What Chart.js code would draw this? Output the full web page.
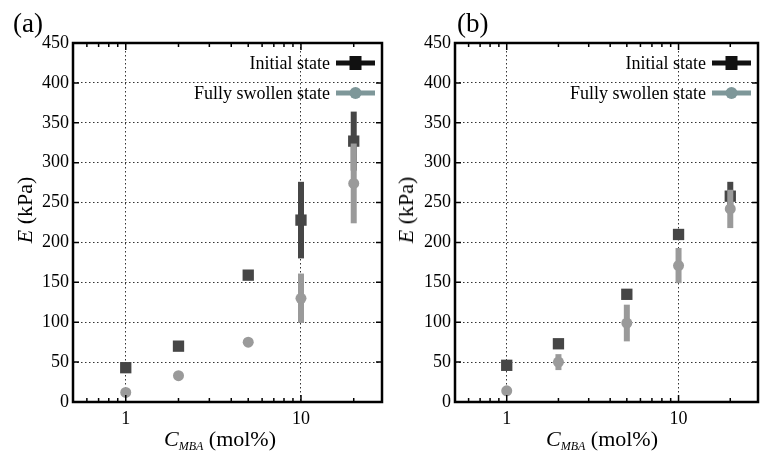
<!DOCTYPE html>
<html>
<head>
<meta charset="utf-8">
<script src="https://cdn.jsdelivr.net/npm/chart.js@4"></script>
<style>
  body { margin: 0; width: 766px; height: 457px; position: relative; background: #fff; overflow: hidden; color: #000; }
  canvas { position: absolute; top: 0; }
  .lbl, .xt, .yt { position: absolute; font-family: 'Liberation Serif', 'Times New Roman', serif; line-height: 1; white-space: nowrap; }
  .lbl { font-size: 27px; }
  .xt { font-size: 22px; transform: translateX(-50%); }
  .yt { font-size: 22px; transform: translate(-50%, -50%) rotate(-90deg); }
  .xt sub { font-size: 12px; font-style: italic; vertical-align: -4px; }
</style>
</head>
<body>
<canvas id="chartA" width="390" height="457" style="left:0"></canvas>
<canvas id="chartB" width="376" height="457" style="left:390px"></canvas>

<div class="lbl" style="left:13px;top:10px">(a)</div>
<div class="lbl" style="left:457px;top:10px">(b)</div>
<div class="yt" style="left:25px;top:210px"><i>E</i> (kPa)</div>
<div class="yt" style="left:406px;top:210px"><i>E</i> (kPa)</div>
<div class="xt" style="left:220px;top:428px"><i>C</i><sub>MBA</sub> (mol%)</div>
<div class="xt" style="left:602px;top:428px"><i>C</i><sub>MBA</sub> (mol%)</div>

<script>
// MBA concentration (mol%)
const cMBA = [1, 2, 5, 10, 20];

// panel (a)
const initialA = [43, 70, 159, 228, 327];
const initialErrA = [0, 0, 0, 48, 37];
const swollenA = [12, 33, 75, 130, 274];
const swollenErrA = [0, 0, 3, 31, 50];

// panel (b)
const initialB = [46, 73, 135, 210, 258];
const initialErrB = [0, 0, 5, 3, 18];
const swollenB = [14, 50, 99, 171, 242];
const swollenErrB = [3, 10, 23, 22, 24];

// axes
const xMajor = [1, 10];
const xMinor = [0.6, 0.7, 0.8, 0.9, 2, 3, 4, 5, 6, 7, 8, 9, 20];
const yTicks = [0, 50, 100, 150, 200, 250, 300, 350, 400, 450];
const legendLabels = ['Initial state', 'Fully swollen state'];

const fontFamily = "'Liberation Serif', 'Times New Roman', serif";
const darkColor = '#464646';
const greyColor = '#9a9a9a';
const legendColors = ['#111111', '#7e9799'];

function toPoints(xs, ys) {
  return xs.map((x, i) => ({ x: x, y: ys[i] }));
}

// error bars, drawn under each dataset's markers
const errorBars = {
  id: 'errorBars',
  beforeDatasetDraw(chart, args) {
    const ds = chart.data.datasets[args.index];
    if (!ds.err) return;
    const { ctx, scales: { x, y } } = chart;
    ctx.save();
    ctx.strokeStyle = ds.backgroundColor;
    ctx.lineWidth = 6;
    ds.data.forEach((p, i) => {
      const e = ds.err[i];
      if (!e) return;
      const px = x.getPixelForValue(p.x);
      ctx.beginPath();
      ctx.moveTo(px, y.getPixelForValue(p.y - e));
      ctx.lineTo(px, y.getPixelForValue(p.y + e));
      ctx.stroke();
    });
    ctx.restore();
  }
};

// frame, inward ticks and legend
const frame = {
  id: 'frame',
  afterDraw(chart) {
    const { ctx, chartArea: a, scales: { x, y } } = chart;
    ctx.save();
    ctx.strokeStyle = '#000';
    ctx.lineWidth = 1.5;
    ctx.beginPath();
    xMinor.concat(xMajor).forEach(v => {
      const px = x.getPixelForValue(v);
      const len = xMajor.includes(v) ? 7 : 4;
      ctx.moveTo(px, a.bottom); ctx.lineTo(px, a.bottom - len);
      ctx.moveTo(px, a.top); ctx.lineTo(px, a.top + len);
    });
    yTicks.forEach(v => {
      const py = y.getPixelForValue(v);
      ctx.moveTo(a.left, py); ctx.lineTo(a.left + 6, py);
      ctx.moveTo(a.right, py); ctx.lineTo(a.right - 6, py);
    });
    ctx.stroke();

    ctx.lineWidth = 2.5;
    ctx.strokeRect(a.left, a.top, a.right - a.left, a.bottom - a.top);

    // legend
    ctx.font = '18px ' + fontFamily;
    ctx.textAlign = 'right';
    ctx.textBaseline = 'middle';
    legendLabels.forEach((label, i) => {
      const ly = a.top + 20 + i * 30;
      ctx.fillStyle = '#000';
      ctx.fillText(label, a.right - 52, ly + 1);
      const x0 = a.right - 46, x1 = a.right - 7, xm = (x0 + x1) / 2;
      ctx.strokeStyle = legendColors[i];
      ctx.fillStyle = legendColors[i];
      ctx.lineWidth = 5;
      ctx.beginPath();
      ctx.moveTo(x0, ly); ctx.lineTo(x1, ly);
      ctx.stroke();
      if (i === 0) {
        ctx.fillRect(xm - 6, ly - 7, 12, 14);
      } else {
        ctx.beginPath();
        ctx.arc(xm, ly, 6, 0, Math.PI * 2);
        ctx.fill();
      }
    });
    ctx.restore();
  }
};

function makeChart(id, initial, initialErr, swollen, swollenErr, yWidth, padRight) {
  const tickFont = { family: fontFamily, size: 18 };
  return new Chart(document.getElementById(id), {
    type: 'scatter',
    data: {
      datasets: [
        {
          label: legendLabels[1],
          data: toPoints(cMBA, swollen),
          err: swollenErr,
          pointStyle: 'circle',
          pointRadius: 5.5,
          backgroundColor: greyColor,
          borderWidth: 0,
          order: 0
        },
        {
          label: legendLabels[0],
          data: toPoints(cMBA, initial),
          err: initialErr,
          pointStyle: 'rect',
          pointRadius: 8,
          backgroundColor: darkColor,
          borderWidth: 0,
          order: 1
        }
      ]
    },
    options: {
      responsive: false,
      animation: false,
      devicePixelRatio: 1,
      layout: { padding: { top: 43, right: padRight, left: 0, bottom: 0 } },
      plugins: { legend: { display: false }, tooltip: { enabled: false } },
      scales: {
        x: {
          type: 'logarithmic',
          min: 0.5,
          max: 29,
          afterBuildTicks: s => { s.ticks = xMinor.concat(xMajor).sort((p, q) => p - q).map(v => ({ value: v })); },
          afterFit: s => { s.height = 55; },
          ticks: {
            autoSkip: false,
            maxRotation: 0,
            padding: 6,
            color: '#000',
            font: tickFont,
            callback: v => (xMajor.includes(v) ? String(v) : '')
          },
          grid: {
            drawTicks: false,
            color: c => (c.tick && xMajor.includes(c.tick.value) ? '#333' : 'rgba(0,0,0,0)'),
            lineWidth: 1
          },
          border: { display: false, dash: [1.5, 2.5] }
        },
        y: {
          min: 0,
          max: 450,
          afterBuildTicks: s => { s.ticks = yTicks.map(v => ({ value: v })); },
          afterFit: s => { s.width = yWidth; },
          ticks: { padding: 4, color: '#000', font: tickFont },
          grid: { drawTicks: false, color: '#333', lineWidth: 1 },
          border: { display: false, dash: [1.5, 2.5] }
        }
      }
    },
    plugins: [errorBars, frame]
  });
}

makeChart('chartA', initialA, initialErrA, swollenA, swollenErrA, 73, 5);
makeChart('chartB', initialB, initialErrB, swollenB, swollenErrB, 65, 1);
</script>
</body>
</html>
